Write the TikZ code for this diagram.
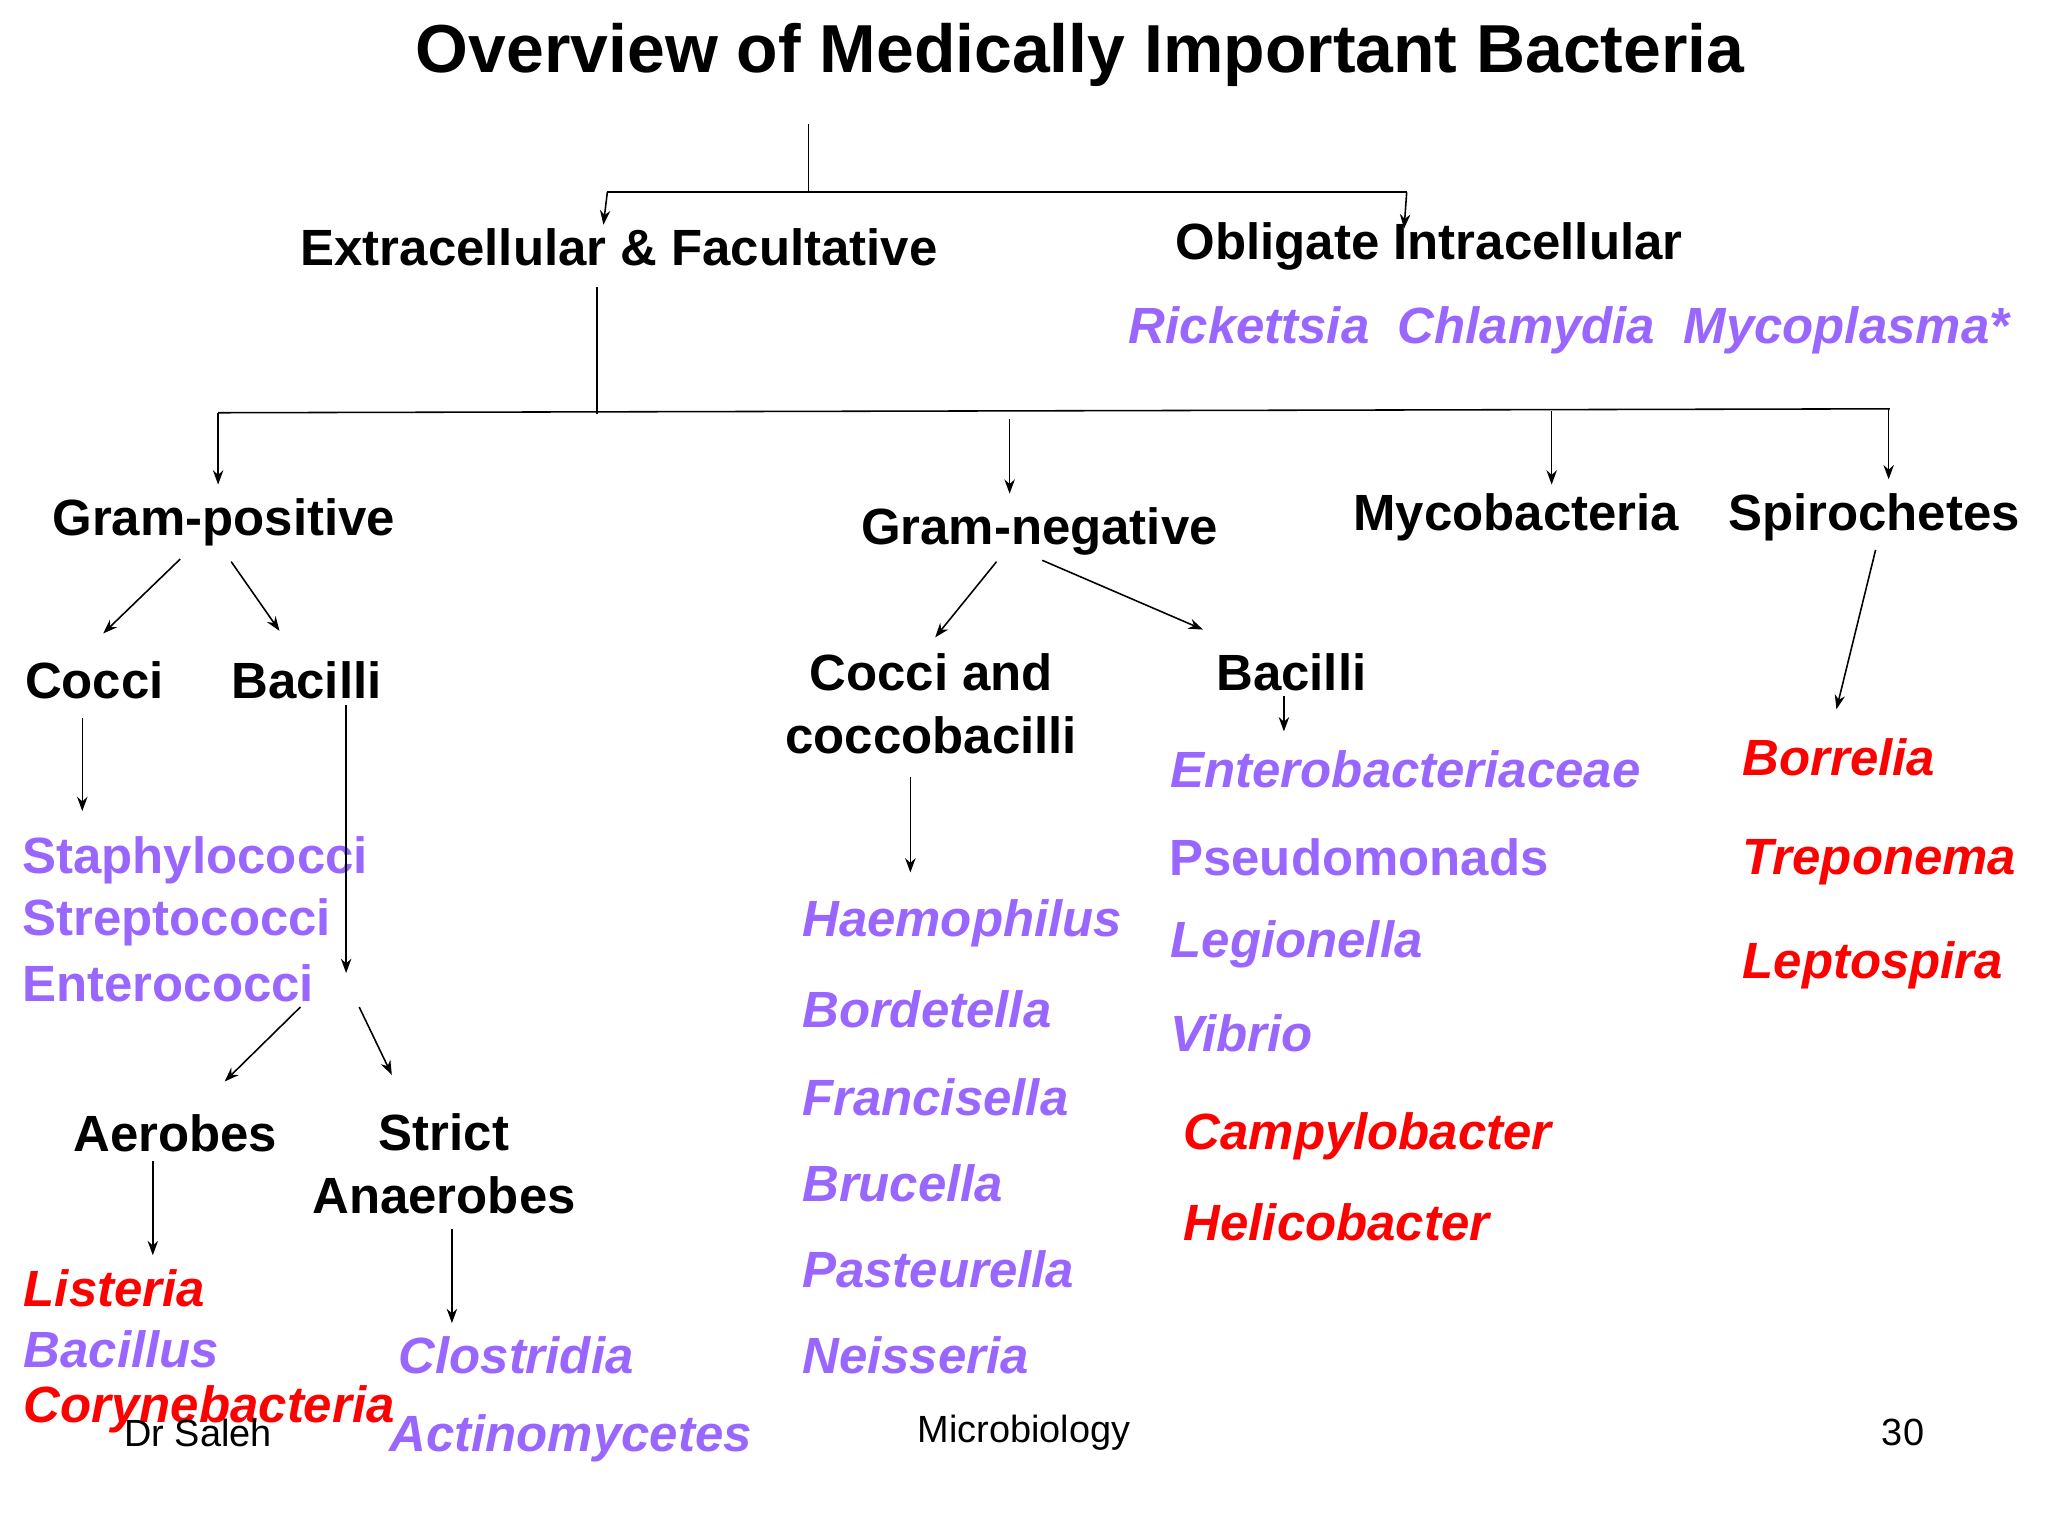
\documentclass[tikz,border=0pt]{standalone}
\usepackage{fontspec}
\setmainfont{Liberation Sans}
\usetikzlibrary{arrows.meta}
\definecolor{purp}{RGB}{153,102,255}
\definecolor{redd}{RGB}{255,0,0}
\begin{document}
\begin{tikzpicture}[x=1pt,y=-1pt,
 hd/.style={anchor=west,inner sep=0pt,font=\fontsize{39}{43}\selectfont\bfseries},
 sp/.style={anchor=west,inner sep=0pt,text=purp,font=\fontsize{39}{43}\selectfont\bfseries\itshape},
 sr/.style={anchor=west,inner sep=0pt,text=redd,font=\fontsize{39}{43}\selectfont\bfseries\itshape},
 ft/.style={inner sep=0pt,font=\fontsize{29}{32}\selectfont},
 ar/.style={-{Stealth[length=11pt,width=8pt]},line width=1.2pt},
 ln/.style={line width=1.2pt}]
\useasboundingbox (0,0) rectangle (1568,1176);
\fill[white] (0,0) rectangle (1568,1176);
\node[inner sep=0pt,font=\fontsize{52}{56}\selectfont\bfseries] (title) at (827,42) {Overview of Medically Important Bacteria};
\node[hd] (ext) at (230,189) {Extracellular \& Facultative};
\node[hd] (obl) at (900,189) {Obligate Intracellular};
\node[sp] (ric) at (864,253) {Rickettsia\ \ Chlamydia\ \ Mycoplasma*};
\node[hd] (gp) at (40,400) {Gram-positive};
\node[hd] (gn) at (659,407) {Gram-negative};
\node[hd] (myc) at (1036,396) {Mycobacteria};
\node[hd] (spi) at (1323,396) {Spirochetes};
\node[hd] (cocci) at (19,521) {Cocci};
\node[hd] (bac) at (177,521) {Bacilli};
\node[hd,anchor=center,align=center,font=\fontsize{39}{48}\selectfont\bfseries] (cc) at (713,539) {Cocci and\\coccobacilli};
\node[hd] (bacn) at (931,515) {Bacilli};
\node[sp,font=\fontsize{39}{43}\selectfont\bfseries] (st1) at (17,659) {Staphylococci};
\node[sp,font=\fontsize{39}{43}\selectfont\bfseries] (st2) at (17,706) {Streptococci};
\node[sp,font=\fontsize{39}{43}\selectfont\bfseries] (st3) at (17,753) {Enterococci};
\node[hd] (aer) at (56,868) {Aerobes};
\node[hd,anchor=center,align=center,font=\fontsize{39}{48}\selectfont\bfseries] (ana) at (340,891) {Strict\\Anaerobes};
\node[sr] (lis) at (18,986) {Listeria};
\node[sp] (bcl) at (18,1033) {Bacillus};
\node[sr] (cor) at (18,1079) {Corynebacteria};
\node[sp] (clo) at (305,1038) {Clostridia};
\node[sp] (act) at (298,1101) {Actinomycetes};
\node[sp] (hae) at (614,707) {Haemophilus};
\node[sp] (bor) at (614,773) {Bordetella};
\node[sp] (fra) at (614,840) {Francisella};
\node[sp] (bru) at (614,906) {Brucella};
\node[sp] (pas) at (614,972) {Pasteurella};
\node[sp] (nei) at (614,1038) {Neisseria};
\node[sp] (ent) at (896,589) {Enterobacteriaceae};
\node[sp,font=\fontsize{39}{43}\selectfont\bfseries] (pse) at (895,656) {Pseudomonads};
\node[sp] (leg) at (896,723) {Legionella};
\node[sp] (vib) at (896,791) {Vibrio};
\node[sr] (cam) at (906,870) {Campylobacter};
\node[sr] (hel) at (906,936) {Helicobacter};
\node[sr] (brl) at (1334,580) {Borrelia};
\node[sr] (tre) at (1334,660) {Treponema};
\node[sr] (lep) at (1334,739) {Leptospira};
\node[ft,anchor=west] (dr) at (95,1097) {Dr Saleh};
\node[ft] (mic) at (784,1097) {Microbiology};
\node[ft] (pg) at (1457,1097) {30};
% connectors
\draw[ln] (619,95) -- (619,147);
\draw[ln] (465,147) -- (1077,147);
\draw[ar] (465,147) -- (462,172);
\draw[ar] (1077,147) -- (1075,175);
\draw[ln] (457,220) -- (457,317);
\draw[ln] (167,316) -- (1447,313);
\draw[ar] (167,316) -- (167,371);
\draw[ar] (773,321) -- (773,378);
\draw[ar] (1188,315) -- (1188,371);
\draw[ar] (1446,313) -- (1446,367);
\draw[ar] (138,428) -- (79,485);
\draw[ar] (177,430) -- (214,483);
\draw[ar] (63,550) -- (63,621);
\draw[ar] (265,540) -- (265,745);
\draw[ar] (230,771) -- (172,828);
\draw[ar] (275,771) -- (300,823);
\draw[ar] (117,889) -- (117,961);
\draw[ar] (346,941) -- (346,1013);
\draw[ar] (763,430) -- (716,488);
\draw[ar] (798,429) -- (921,482);
\draw[ar] (697,595) -- (697,668);
\draw[ar] (983,533) -- (983,560);
\draw[ar] (1436,421) -- (1406,543);
\end{tikzpicture}
\end{document}
